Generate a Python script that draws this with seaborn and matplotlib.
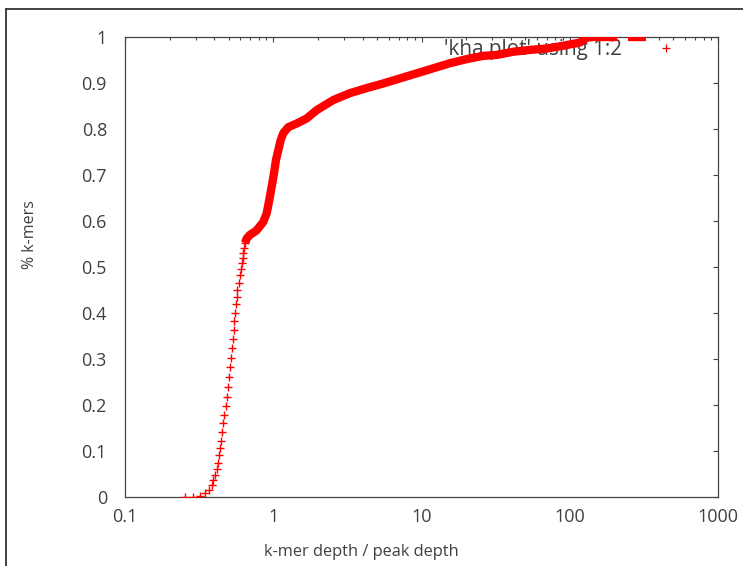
import numpy as np
import pandas as pd
import matplotlib
matplotlib.use("Agg")
import matplotlib.pyplot as plt
import seaborn as sns
from matplotlib.lines import Line2D
from matplotlib.ticker import FixedLocator, FixedFormatter, LogLocator, NullFormatter

# ---- data ----
# individually visible '+' points (steep lower part of the curve)
sparse_depth = [0.2539, 0.2889, 0.3206, 0.3464, 0.3703, 0.3844, 0.3941, 0.4047, 0.4155,
                0.4220, 0.4285, 0.4373, 0.4420, 0.4531, 0.4603, 0.4675, 0.4800, 0.4897,
                0.4973, 0.5051, 0.5131, 0.5179, 0.5244, 0.5326, 0.5409, 0.5435, 0.5495,
                0.5580, 0.5694, 0.5721, 0.5848, 0.5967, 0.6031, 0.6126, 0.6221, 0.6281,
                0.6378, 0.6448]
sparse_frac = [0.000, 0.000, 0.002, 0.008, 0.015, 0.026, 0.037, 0.048, 0.060,
               0.075, 0.091, 0.106, 0.122, 0.141, 0.160, 0.179, 0.198, 0.218,
               0.239, 0.260, 0.282, 0.302, 0.323, 0.343, 0.363, 0.383, 0.401,
               0.420, 0.435, 0.450, 0.466, 0.483, 0.495, 0.508, 0.519, 0.530,
               0.541, 0.552]

# densely packed points (they merge into a solid band)
band_depth = [0.6448, 0.6622, 0.6967, 0.7531, 0.7736, 0.8567, 0.9034, 0.9406, 0.9761,
              1.0118, 1.0436, 1.0817, 1.1228, 1.1690, 1.2634, 1.4394, 1.6811, 1.9640,
              2.5420, 3.2937, 4.2705, 5.5245, 7.1614, 9.2822, 12.013, 15.567, 20.179,
              26.118, 32.162, 41.635, 53.950, 69.911, 90.477, 117.24, 130.14, 144.13,
              159.95, 177.5, 189.8, 208.3]
band_frac = [0.552, 0.562, 0.570, 0.577, 0.580, 0.598, 0.617, 0.646, 0.675,
             0.704, 0.733, 0.754, 0.776, 0.791, 0.804, 0.812, 0.823, 0.841,
             0.863, 0.878, 0.889, 0.899, 0.910, 0.921, 0.932, 0.943, 0.952,
             0.959, 0.961, 0.968, 0.972, 0.975, 0.981, 0.988, 0.9985, 1.0,
             1.0, 1.0, 1.0, 1.0]

# isolated cluster of points at the top right
tail_depth = [247.2, 261.8, 279.9, 302.4, 326.8]
tail_frac = [1.0, 1.0, 1.0, 1.0, 1.0]

x_ticks = [0.1, 1, 10, 100, 1000]
x_tick_labels = ["0.1", "1", "10", "100", "1000"]
y_ticks = [0, 0.1, 0.2, 0.3, 0.4, 0.5, 0.6, 0.7, 0.8, 0.9, 1.0]
y_tick_labels = ["0", "0.1", "0.2", "0.3", "0.4", "0.5", "0.6", "0.7", "0.8", "0.9", "1"]
x_label = "k-mer depth / peak depth"
y_label = "% k-mers"
legend_label = "'kha.plot' using 1:2"

# ---- figure ----
sns.set_style("white")
plt.rcParams["font.family"] = ["Open Sans", "DejaVu Sans"]
TXT = "#404040"
FS_TICK = 13
FS_LAB = 11.8
FS_YLAB = 11.5
FS_LEG = 14.9

W, H = 743, 566
fig = plt.figure(figsize=(W / 100, H / 100), dpi=100)
ax = fig.add_axes([125 / W, 1 - 497 / H, (718 - 125) / W, (497 - 37) / H])

band_df = pd.DataFrame({
    "depth": band_depth + tail_depth,
    "frac": band_frac + tail_frac,
    "seg": [0] * len(band_depth) + [1] * len(tail_depth),
})
sns.lineplot(data=band_df, x="depth", y="frac", units="seg", estimator=None,
             sort=False, color="#ff0000", lw=6, solid_capstyle="butt",
             legend=False, ax=ax, zorder=3)
sns.scatterplot(x=sparse_depth, y=sparse_frac, marker="+", color="#ff0000",
                s=40, linewidth=1.0, legend=False, ax=ax, zorder=3)

ax.set_xscale("log")
ax.set_xlim(0.1, 1000)
ax.set_ylim(0, 1)
ax.xaxis.set_major_locator(FixedLocator(x_ticks))
ax.xaxis.set_major_formatter(FixedFormatter(x_tick_labels))
ax.xaxis.set_minor_locator(LogLocator(base=10, subs=np.arange(2, 10), numticks=20))
ax.xaxis.set_minor_formatter(NullFormatter())
ax.yaxis.set_major_locator(FixedLocator(y_ticks))
ax.yaxis.set_major_formatter(FixedFormatter(y_tick_labels))

ax.tick_params(which="both", direction="in", top=True, right=True,
               colors="#444444", labelcolor=TXT, labelsize=FS_TICK, width=0.8)
ax.tick_params(which="major", length=3.8)
ax.tick_params(which="minor", length=2.0)
ax.tick_params(axis="y", pad=13)
ax.tick_params(axis="x", pad=8)
for sp in ax.spines.values():
    sp.set_color("#444444")
    sp.set_linewidth(0.9)

ax.set_xlabel(x_label, fontsize=FS_LAB, color=TXT)
ax.set_ylabel(y_label, fontsize=FS_YLAB, color=TXT)
ax.xaxis.set_label_coords((361 - 125) / 593, (497 - 552) / 460)
ax.xaxis.label.set_va("center")
ax.yaxis.set_label_coords((30 - 125) / 593, (497 - 235) / 460)
ax.yaxis.label.set_va("center")

handle = Line2D([], [], marker="+", color="#ff0000", ls="none", ms=6, mew=0.9)
leg = ax.legend(handles=[handle], labels=[legend_label], loc="center right",
                bbox_to_anchor=((680 - 125) / 593, (497 - 50) / 460),
                frameon=False, markerfirst=False, handlelength=1.4,
                handletextpad=1.4, borderaxespad=0, borderpad=0,
                fontsize=FS_LEG, labelcolor=TXT)
leg.set_zorder(1)

# screenshot frame lines (top and left)
fig.add_artist(Line2D([6 / W, 6 / W], [0, 1 - 9 / H], color="#222222", lw=1.2))
fig.add_artist(Line2D([6 / W, 1], [1 - 9 / H, 1 - 9 / H], color="#222222", lw=1.2))

fig.savefig("out.png", dpi=100)
